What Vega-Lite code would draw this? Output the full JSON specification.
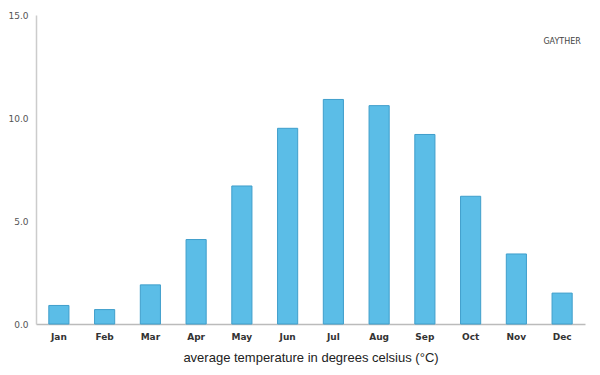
{
  "$schema": "https://vega.github.io/schema/vega-lite/v6.json",
  "autosize": {"type": "none"},
  "width": 549,
  "height": 309,
  "padding": {"left": 36, "top": 15, "right": 15, "bottom": 51},
  "background": "white",
  "config": {"view": {"stroke": null}},
  "data": {"values": [
    {"month": "Jan", "temp": 0.9},
    {"month": "Feb", "temp": 0.7},
    {"month": "Mar", "temp": 1.9},
    {"month": "Apr", "temp": 4.1},
    {"month": "May", "temp": 6.7},
    {"month": "Jun", "temp": 9.5},
    {"month": "Jul", "temp": 10.9},
    {"month": "Aug", "temp": 10.6},
    {"month": "Sep", "temp": 9.2},
    {"month": "Oct", "temp": 6.2},
    {"month": "Nov", "temp": 3.4},
    {"month": "Dec", "temp": 1.5}
  ]},
  "layer": [
    {
      "mark": {"type": "bar", "fill": "#5bbde7", "stroke": "#3f9ecb", "strokeWidth": 1},
      "encoding": {
        "x": {
          "field": "month", "type": "nominal",
          "sort": ["Jan","Feb","Mar","Apr","May","Jun","Jul","Aug","Sep","Oct","Nov","Dec"],
          "scale": {"paddingInner": 0.56, "paddingOuter": 0.28},
          "axis": {
            "title": "average temperature in degrees celsius (°C)",
            "titleFont": "Liberation Sans", "titleFontSize": 13, "titleFontWeight": "normal",
            "titleColor": "#222", "titlePadding": 10,
            "labelAngle": 0, "labelFont": "DejaVu Sans", "labelFontSize": 9, "labelFontWeight": "bold",
            "labelColor": "#333", "labelPadding": 8,
            "ticks": false, "domainColor": "#bbbbbb", "domainWidth": 1.5
          }
        },
        "y": {
          "field": "temp", "type": "quantitative",
          "scale": {"domain": [0, 15], "nice": false},
          "axis": {
            "title": null, "values": [0, 5, 10, 15], "format": ".1f",
            "labelFont": "DejaVu Sans", "labelFontSize": 9, "labelColor": "#555",
            "labelPadding": 8, "ticks": false, "grid": false,
            "domainColor": "#cccccc", "domainWidth": 1.5
          }
        }
      }
    },
    {
      "data": {"values": [{"month": "Dec", "y": 13.7, "label": "GAYTHER"}]},
      "mark": {"type": "text", "font": "DejaVu Sans", "fontSize": 8, "color": "#444", "baseline": "middle"},
      "encoding": {
        "x": {"field": "month", "type": "nominal",
              "sort": ["Jan","Feb","Mar","Apr","May","Jun","Jul","Aug","Sep","Oct","Nov","Dec"]},
        "y": {"field": "y", "type": "quantitative"},
        "text": {"field": "label"}
      }
    }
  ]
}
